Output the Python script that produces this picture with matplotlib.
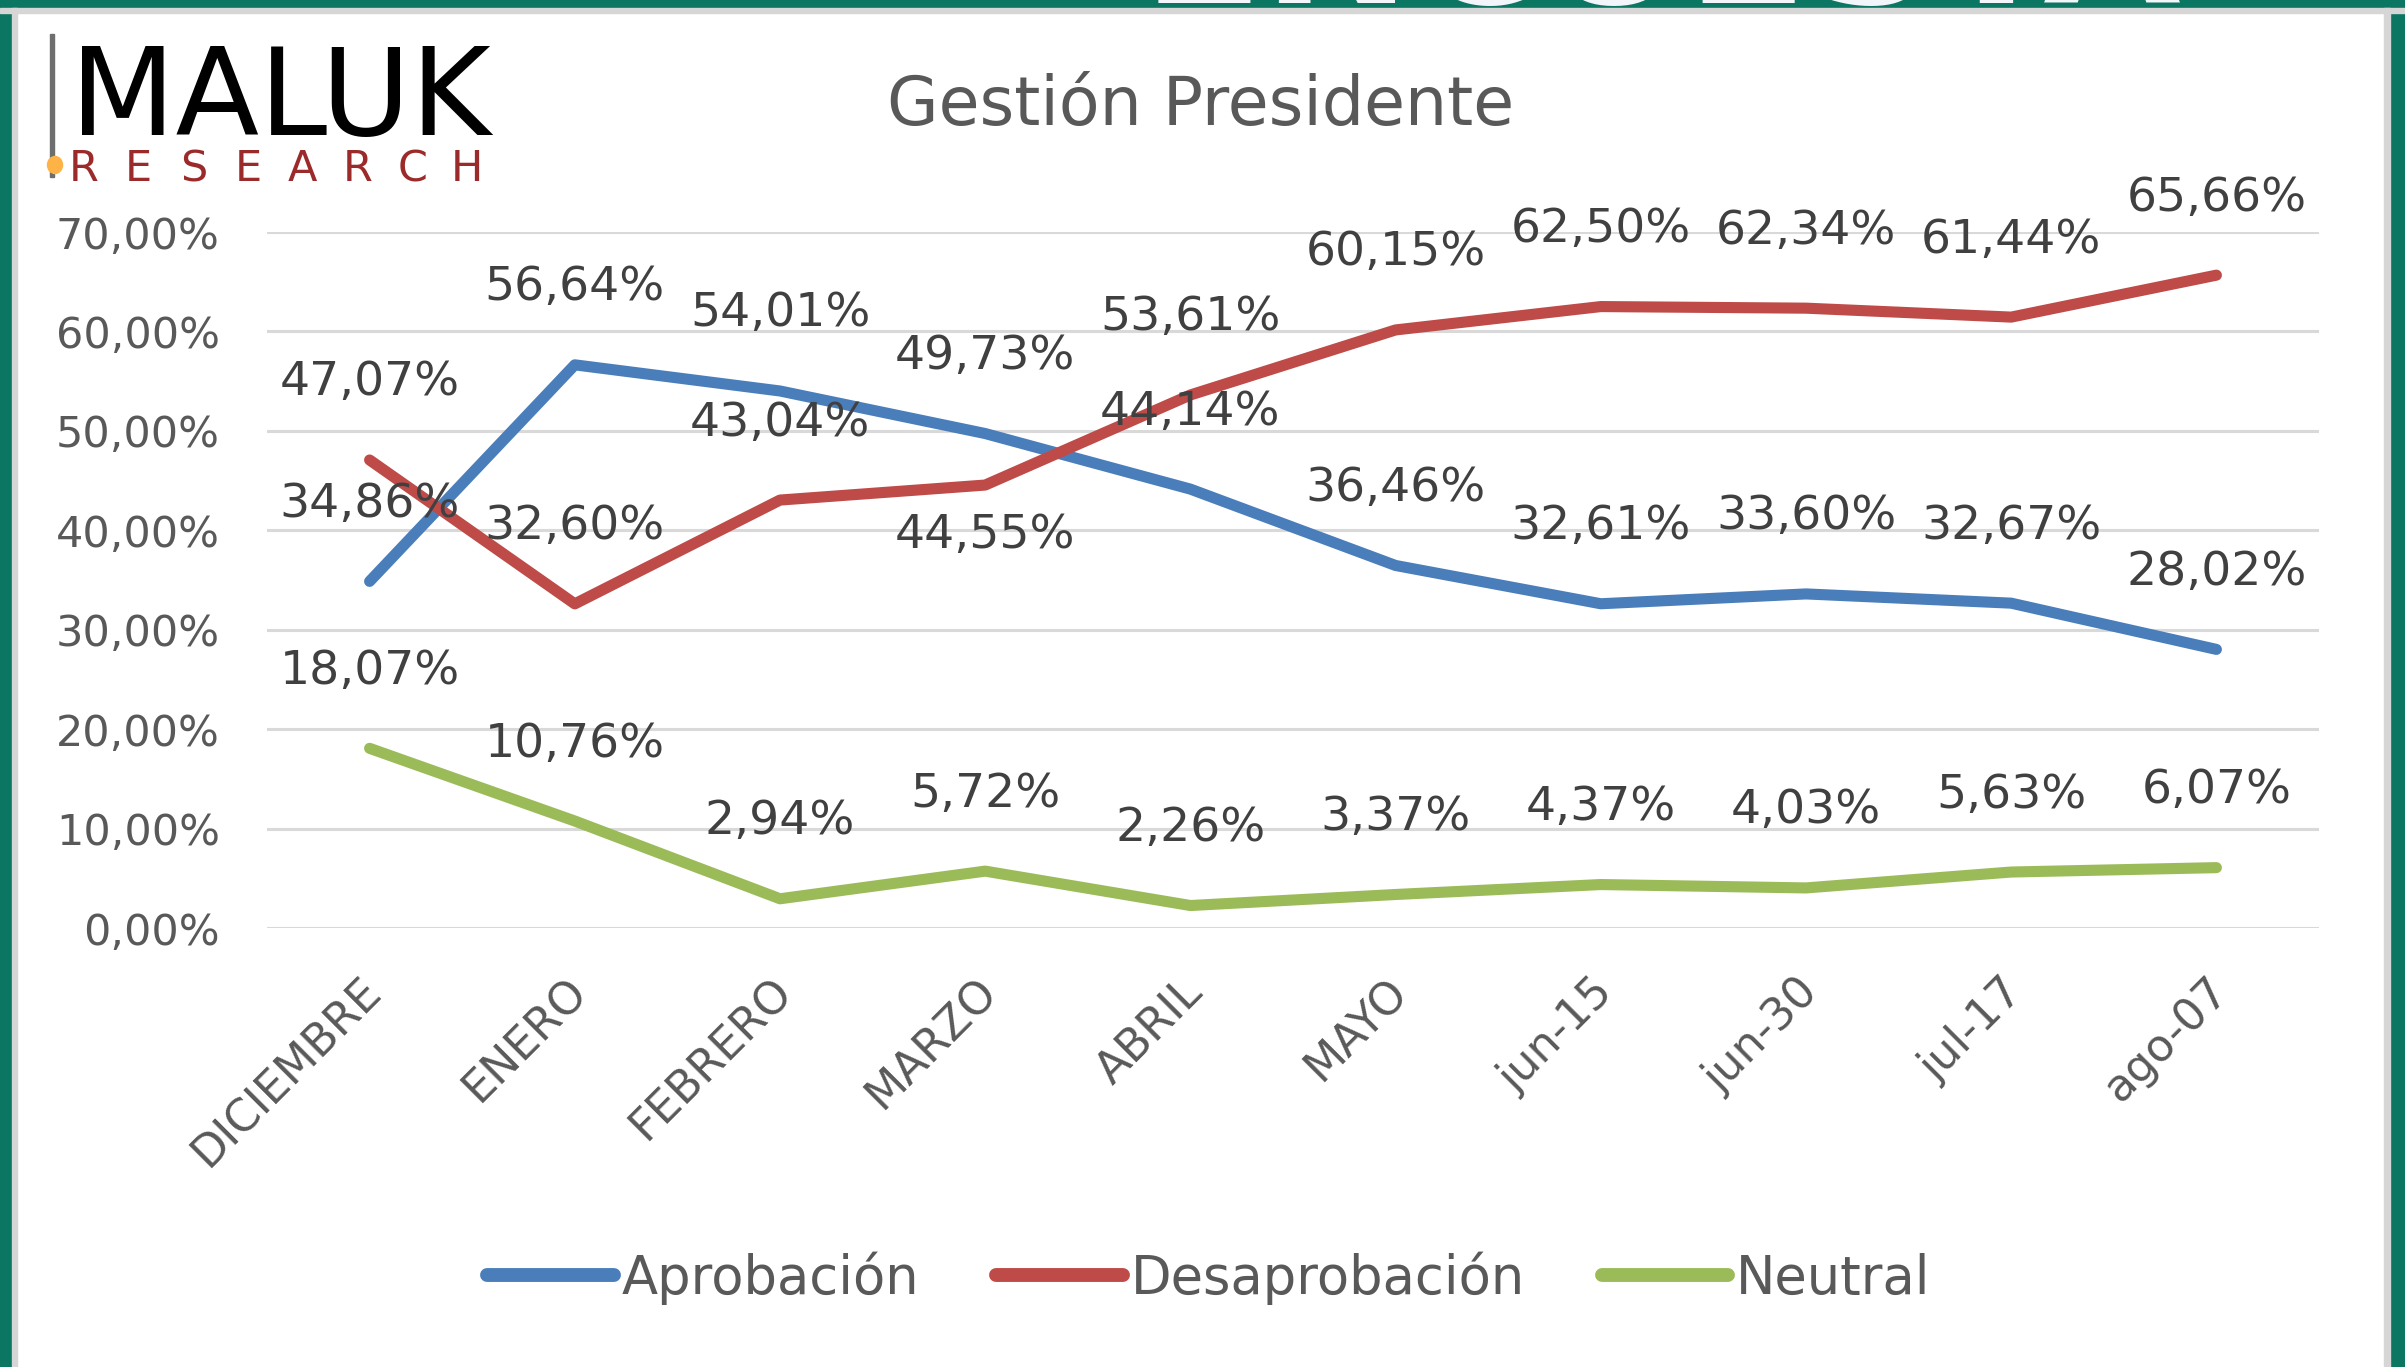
import matplotlib.pyplot as plt
from matplotlib.patches import Rectangle, Ellipse
from matplotlib.transforms import ScaledTranslation

plt.rcParams['font.family'] = ['DejaVu Sans']

meses = ['DICIEMBRE', 'ENERO', 'FEBRERO', 'MARZO', 'ABRIL', 'MAYO',
         'jun-15', 'jun-30', 'jul-17', 'ago-07']
aprobacion = [34.86, 56.64, 54.01, 49.73, 44.14, 36.46, 32.61, 33.60, 32.67, 28.02]
desaprobacion = [47.07, 32.60, 43.04, 44.55, 53.61, 60.15, 62.50, 62.34, 61.44, 65.66]
neutral = [18.07, 10.76, 2.94, 5.72, 2.26, 3.37, 4.37, 4.03, 5.63, 6.07]
y_ticks = [0, 10, 20, 30, 40, 50, 60, 70]

azul = '#4A7EBB'
rojo = '#BE4B48'
verde = '#9BBB59'
gris_txt = '#595959'

W, H = 2405, 1367
fig = plt.figure(figsize=(W / 100, H / 100), dpi=100)
fig.patch.set_facecolor('white')

# marco verde + linea gris
def rect(x, y, w, h, c, z=0):
    fig.patches.append(Rectangle((x / W, 1 - (y + h) / H), w / W, h / H,
                                 transform=fig.transFigure, color=c, zorder=z))
rect(0, 0, W, 8, '#0B7661')
rect(0, 0, 12, H, '#0B7661')
rect(2390, 0, 15, H, '#0B7661')
# restos de un titulo blanco cortado arriba
fig.text(1662 / W, 1 - 3 / H, 'ENCUESTA', ha='center', va='baseline',
         fontsize=128, fontweight='bold', color='#F2F6FA', zorder=0.5)
rect(0, 8, W, 5, '#D6D6D6', 1)
rect(12, 8, 5, H, '#D6D6D6', 1)
rect(2384, 8, 6, H, '#D6D6D6', 1)

ax = fig.add_axes([267 / W, 1 - 928 / H, (2319 - 267) / W, (928 - 232) / H])
x = list(range(len(meses)))

series = [(aprobacion, azul, 'Aprobación'),
          (desaprobacion, rojo, 'Desaprobación'),
          (neutral, verde, 'Neutral')]
for vals, col, nom in series:
    ax.plot(x, vals, color=col, lw=8, solid_capstyle='round',
            solid_joinstyle='round', label=nom, clip_on=False, zorder=3)

def etiqueta(v):
    return ('%.2f%%' % v).replace('.', ',')

for vals, col, nom in series:
    for i, v in enumerate(vals):
        off = 77
        if nom == 'Desaprobación' and meses[i] == 'MARZO':
            off = -50
        ax.annotate(etiqueta(v), (i, v), xytext=(0, off), textcoords='offset pixels',
                    ha='center', va='center', fontsize=34, color='#404040', zorder=4)

ax.set_xlim(-0.5, len(meses) - 0.5)
ax.set_ylim(0, 70)
ax.set_yticks(y_ticks)
ax.set_yticklabels([('%.2f%%' % t).replace('.', ',') for t in y_ticks])
ax.set_xticks(x)
ax.set_xticklabels(meses, rotation=45, ha='right', rotation_mode='anchor')
ax.tick_params(axis='both', length=0, colors=gris_txt, labelsize=31)
ax.tick_params(axis='x', labelsize=32, pad=30)
ax.tick_params(axis='y', pad=34)
desplaza = ScaledTranslation(-10 / 100, 0, fig.dpi_scale_trans)
for lbl in ax.get_xticklabels():
    lbl.set_transform(lbl.get_transform() + desplaza)
ax.grid(axis='y', color='#D9D9D9', lw=2.2, zorder=1)
ax.set_axisbelow(True)
for s in ax.spines.values():
    s.set_visible(False)
ax.set_facecolor('none')

fig.text(1201 / W, 1 - 106 / H, 'Gestión Presidente', ha='center', va='center',
         fontsize=48, color=gris_txt)

leg = fig.legend(loc='center', bbox_to_anchor=(1209 / W, 89 / H), ncol=3,
                 frameon=False, fontsize=38, handlelength=2.4, handletextpad=0.15,
                 columnspacing=1.45, labelcolor=gris_txt)
for ln in leg.get_lines():
    ln.set_linewidth(10)
    ln.set_solid_capstyle('round')

# logo
rect(50, 34, 4, 143, '#6E6E6E')
fig.text(70 / W, 1 - 135 / H, 'MALUK', ha='left', va='baseline',
         fontsize=88, color='black')
fig.patches.append(Ellipse((55 / W, 1 - 165 / H), 15 / W, 17 / H,
                           transform=fig.transFigure, color='#FFB347', zorder=2))
for k, letra in enumerate('RESEARCH'):
    fig.text((84 + k * 54.7) / W, 1 - 181 / H, letra, ha='center', va='baseline',
             fontsize=31, color='#9B2B2B')

fig.savefig('out.png', dpi=100)
